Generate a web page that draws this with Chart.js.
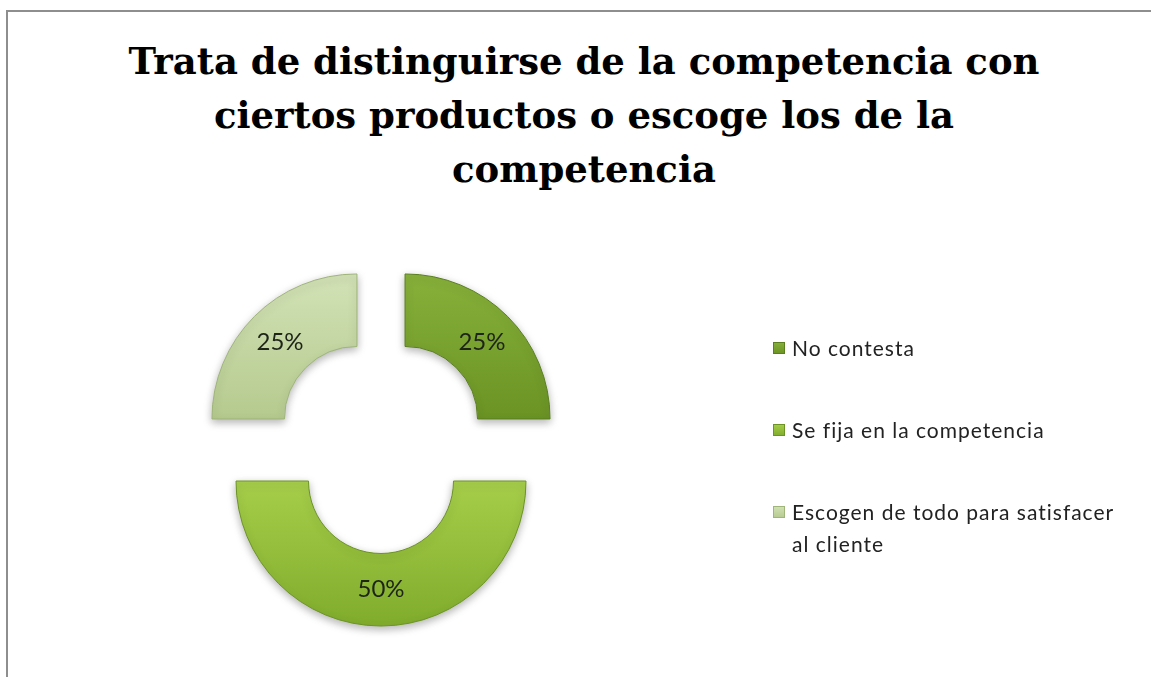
<!DOCTYPE html>
<html>
<head>
<meta charset="utf-8">
<script src="https://cdn.jsdelivr.net/npm/chart.js@4.4.1/dist/chart.umd.min.js"></script>
<style>
  html, body { margin: 0; padding: 0; background: #fff; width: 1151px; height: 677px; overflow: hidden; }
  #frame { position: absolute; left: 6px; top: 10px; width: 1160px; height: 700px;
           border-top: 2px solid #8e8e8e; border-left: 2px solid #8e8e8e; }
  #title { position: absolute; left: 34px; width: 1100px; top: 34px; text-align: center;
           font: bold 37px "DejaVu Serif", serif; line-height: 54px; color: #000; }
  #chartBox { position: absolute; left: 0; top: 0; width: 1151px; height: 677px; }
  #legend { position: absolute; left: 773px; top: 332px; width: 354px;
            font: 21px "Lato", sans-serif; letter-spacing: 1px; color: #222; }
  .item { position: relative; padding-left: 19px; line-height: 32px; margin-bottom: 50px; }
  .swatch { position: absolute; left: 0; top: 10px; width: 12px; height: 12px; }
</style>
</head>
<body>
<div id="frame"></div>
<div id="title"></div>
<div id="chartBox"><canvas id="c" width="1151" height="677"></canvas></div>
<div id="legend"></div>
<script>
// Survey answers and their shares
const titleLines = [
  'Trata de distinguirse de la competencia con',
  'ciertos productos o escoge los de la',
  'competencia'
];
const categories = [
  'No contesta',
  'Se fija en la competencia',
  'Escogen de todo para satisfacer al cliente'
];
const shares = [25, 50, 25];
const shareLabels = ['25%', '50%', '25%'];

// Per-slice shading: [light stop, dark stop]
const sliceShades = [
  ['#87b13a', '#6a9324'],
  ['#a6ce4a', '#80ac2c'],
  ['#d2e2b6', '#b5ca8e']
];
const sliceBorders = ['#5a7f1f', '#6c9424', '#9fb57a'];
const explodeBy = [34, 38, 34];

document.getElementById('title').innerHTML = titleLines.join('<br>');

// Legend
const legendEl = document.getElementById('legend');
categories.forEach((name, i) => {
  const item = document.createElement('div');
  item.className = 'item';
  const sw = document.createElement('span');
  sw.className = 'swatch';
  sw.style.background = `linear-gradient(180deg, ${sliceShades[i][0]}, ${sliceShades[i][1]})`;
  sw.style.boxShadow = `inset 0 0 0 1px ${sliceBorders[i]}`;
  item.appendChild(sw);
  item.appendChild(document.createTextNode(name));
  legendEl.appendChild(item);
});

// Arc that is pulled away from the centre along its bisector
class ExplodedArc extends Chart.ArcElement {
  draw(ctx, area) {
    const half = (this.startAngle + this.endAngle) / 2;
    const d = this.options.explode || 0;
    ctx.save();
    ctx.translate(Math.cos(half) * d, Math.sin(half) * d);
    super.draw(ctx, area);
    ctx.restore();
  }
}
ExplodedArc.id = 'explodedArc';
ExplodedArc.defaults = Object.assign({}, Chart.ArcElement.defaults, { explode: 0 });
Chart.register(ExplodedArc);
Chart.defaults.datasets.doughnut.dataElementType = 'explodedArc';

function sliceGradient(context) {
  const chart = context.chart;
  const area = chart.chartArea;
  const i = context.dataIndex;
  if (!area || i === undefined) return sliceShades[i || 0][0];
  const cy = (area.top + area.bottom) / 2;
  const r = Math.min(area.right - area.left, area.bottom - area.top) / 2;
  const g = chart.ctx.createLinearGradient(0, i === 1 ? cy : cy - r, 0, i === 1 ? cy + r : cy);
  g.addColorStop(0, sliceShades[i][0]);
  g.addColorStop(1, sliceShades[i][1]);
  return g;
}

const softShadow = {
  id: 'softShadow',
  beforeDatasetsDraw(chart) {
    const ctx = chart.ctx;
    ctx.save();
    ctx.shadowColor = 'rgba(0,0,0,0.30)';
    ctx.shadowBlur = 8;
    ctx.shadowOffsetY = 3;
  },
  afterDatasetsDraw(chart) {
    chart.ctx.restore();
  }
};

const sliceText = {
  id: 'sliceText',
  afterDatasetsDraw(chart) {
    const ctx = chart.ctx;
    const meta = chart.getDatasetMeta(0);
    ctx.save();
    ctx.font = '24px "Lato", sans-serif';
    ctx.fillStyle = '#1e2418';
    ctx.textAlign = 'center';
    ctx.textBaseline = 'middle';
    meta.data.forEach((arc, i) => {
      const half = (arc.startAngle + arc.endAngle) / 2;
      const rr = (arc.innerRadius + arc.outerRadius) / 2 + (arc.options.explode || 0);
      ctx.fillText(shareLabels[i], arc.x + Math.cos(half) * rr, arc.y + Math.sin(half) * rr);
    });
    ctx.restore();
  }
};

new Chart(document.getElementById('c'), {
  type: 'doughnut',
  data: {
    labels: categories,
    datasets: [{
      data: shares,
      backgroundColor: sliceGradient,
      borderColor: sliceBorders,
      borderWidth: 1,
      explode: explodeBy
    }]
  },
  options: {
    responsive: false,
    animation: false,
    cutout: '50%',
    layout: { padding: { left: 235.5, top: 297.5, right: 624.5, bottom: 88.5 } },
    plugins: {
      legend: { display: false },
      title: { display: false },
      tooltip: { enabled: false }
    }
  },
  plugins: [softShadow, sliceText]
});
</script>
</body>
</html>
